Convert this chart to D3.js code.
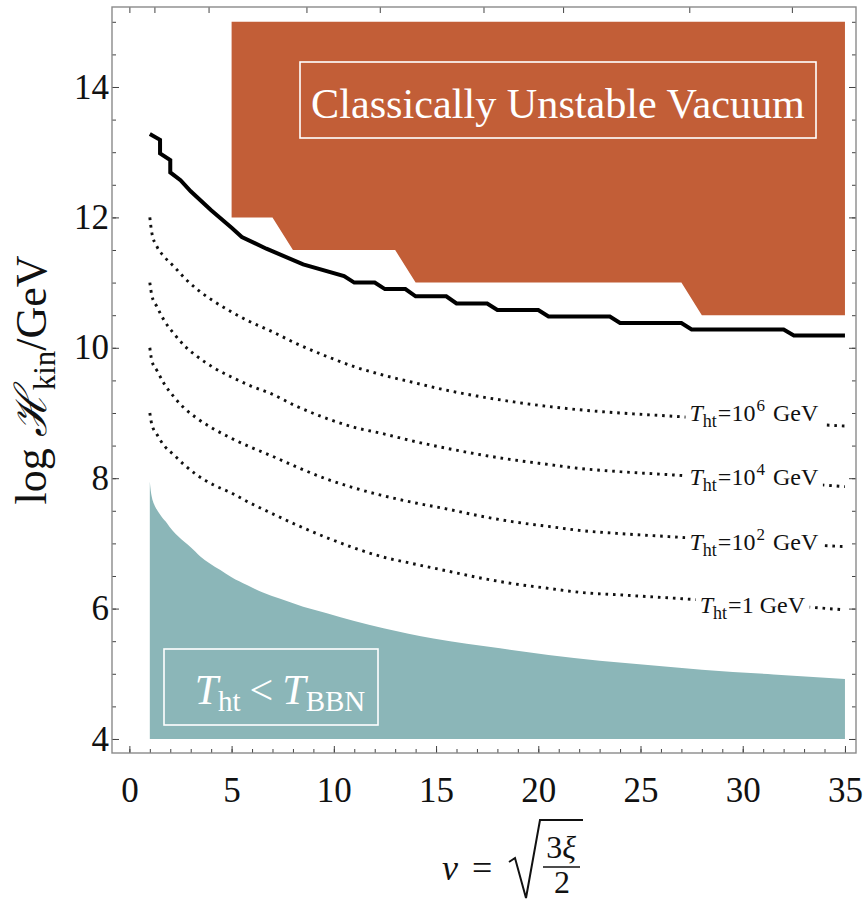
<!DOCTYPE html>
<html><head><meta charset="utf-8">
<script src="https://cdn.jsdelivr.net/npm/d3@7"></script>
<style>body{margin:0;background:#fff}svg{display:block}</style>
</head><body>
<svg id="c" width="864" height="906"></svg>
<script>
// ---------- data ----------
const xTicks = [0, 5, 10, 15, 20, 25, 30, 35];
const yTicks = [4, 6, 8, 10, 12, 14];
const xiTopTicks = [0, 1, 10, 50, 100, 200, 300, 500, 700];

// black stability boundary
const boundaryNu = [1.0,1.5,1.5,2.0,2.0,2.5,3.0,4.0,5.0,5.5,6.7,8.5,10.5,11.0,12.0,12.5,13.5,14.0,15.5,16.0,17.5,18.0,20.0,20.5,23.5,24.0,27.0,27.5,32.0,32.5,35.0];
const boundaryH  = [13.28,13.19,12.98,12.88,12.69,12.57,12.40,12.11,11.84,11.70,11.52,11.28,11.10,11.0,11.0,10.9,10.9,10.79,10.79,10.68,10.68,10.58,10.58,10.48,10.48,10.38,10.38,10.28,10.28,10.19,10.19];

// classically unstable vacuum region
const unstableNu = [5, 35, 35, 28, 27, 14, 13, 8, 7, 5];
const unstableH  = [15, 15, 10.5, 10.5, 11, 11, 11.5, 11.5, 12, 12];

// T_ht < T_BBN region (upper edge)
const bbnNu = [1.0,1.03,1.08,1.15,1.27,1.4,1.55,1.84,2.1,2.41,2.7,3.0,3.47,3.9,4.45,5.0,5.75,6.5,7.38,8.5,9.66,11.0,12.43,14.87,16.5,18.13,20.5,23,25.5,28,31.5,35];
const bbnH  = [7.95,7.85,7.74,7.65,7.56,7.49,7.42,7.31,7.20,7.10,7.02,6.94,6.80,6.70,6.59,6.48,6.36,6.25,6.15,6.03,5.93,5.81,5.70,5.54,5.46,5.39,5.29,5.20,5.13,5.06,4.99,4.92];

// dotted T_ht contours
const tNu = [1,1.1,1.35,1.7,2.17,2.7,3.3,4.1,4.94,5.9,6.9,8.2,9.8,11,12.3,14,15.5,17,18.8,20.5,22,24,26.6,29,32,35];
const t6H = [12.0,11.76,11.55,11.40,11.25,11.07,10.90,10.72,10.56,10.40,10.26,10.06,9.85,9.71,9.59,9.46,9.35,9.26,9.17,9.10,9.05,9.00,8.95,8.90,8.85,8.80];
const t4H = [11.0,10.80,10.63,10.42,10.22,10.03,9.87,9.70,9.56,9.42,9.30,9.10,8.90,8.78,8.69,8.56,8.46,8.37,8.28,8.21,8.15,8.10,8.05,8.00,7.94,7.87];
const t2H = [10.0,9.80,9.65,9.45,9.25,9.07,8.92,8.76,8.62,8.48,8.35,8.17,7.97,7.85,7.74,7.62,7.53,7.43,7.33,7.26,7.20,7.15,7.10,7.05,7.00,6.95];
const t0H = [9.0,8.82,8.67,8.50,8.36,8.20,8.05,7.90,7.78,7.62,7.47,7.28,7.07,6.93,6.80,6.68,6.58,6.48,6.38,6.31,6.25,6.21,6.16,6.11,6.05,5.98];
const contourSeries = [t6H, t4H, t2H, t0H];
const contourExp = ["6", "4", "2", null];

const orange = "#c25e37", teal = "#8bb6b8";
const serif = "'Liberation Serif','Times New Roman',serif";

// ---------- scales ----------
const svg = d3.select("#c");
const x = d3.scaleLinear().domain([-0.85, 35.54]).range([112, 856]);
const y = d3.scaleLinear().domain([3.785, 15.227]).range([753, 7]);

const zip = (a, b) => a.map((v, i) => [v, b[i]]);

// regions
svg.append("path")
  .attr("d", d3.line().x(d => x(d[0])).y(d => y(d[1]))(zip(unstableNu, unstableH)) + "Z")
  .attr("fill", orange);

svg.append("path")
  .attr("d", d3.area().x(d => x(d[0])).y0(y(4)).y1(d => y(d[1])).curve(d3.curveMonotoneX)(zip(bbnNu, bbnH)))
  .attr("fill", teal);

// dotted contours
const cLine = d3.line().x(d => x(d[0])).y(d => y(d[1])).curve(d3.curveMonotoneX);
contourSeries.forEach(s => {
  svg.append("path").attr("d", cLine(zip(tNu, s)))
    .attr("fill", "none").attr("stroke", "#111").attr("stroke-width", 2.9)
    .attr("stroke-dasharray", "2.6,4.9");
});

// boundary line
svg.append("path")
  .attr("d", d3.line().x(d => x(d[0])).y(d => y(d[1]))(zip(boundaryNu, boundaryH)))
  .attr("fill", "none").attr("stroke", "#000").attr("stroke-width", 4)
  .attr("stroke-linejoin", "miter");

// contour labels
const labelBase = [8.87, 7.90, 6.90, 5.93];
const labelCenterNu = 30.3;
contourExp.forEach((e, i) => {
  const g = svg.append("g");
  const bg = g.append("rect").attr("fill", "#fff");
  const t = g.append("text").attr("font-family", serif).attr("font-size", 24)
    .attr("y", y(labelBase[i])).attr("fill", "#111");
  t.append("tspan").attr("font-style", "italic").text("T");
  t.append("tspan").attr("font-size", 18).attr("dy", 6).text("ht");
  if (e) {
    t.append("tspan").attr("dy", -6).attr("dx", 1).text("=10");
    t.append("tspan").attr("font-size", 17).attr("dy", -10).attr("dx", 1).text(e);
    t.append("tspan").attr("dy", 10).attr("dx", 8).text("GeV");
  } else {
    t.append("tspan").attr("dy", -6).attr("dx", 1).text("=1");
    t.append("tspan").attr("dx", 6).text("GeV");
  }
  const w = t.node().getComputedTextLength();
  t.attr("x", x(labelCenterNu) - w / 2);
  const bb = t.node().getBBox();
  bg.attr("x", bb.x - 4).attr("y", bb.y - 2).attr("width", bb.width + 8).attr("height", bb.height + 4);
});

// region labels
function boxLabel(cx, cy, w, h, build, targetW) {
  const g = svg.append("g");
  g.append("rect").attr("x", cx - w / 2).attr("y", cy - h / 2).attr("width", w).attr("height", h)
    .attr("fill", "none").attr("stroke", "#fff").attr("stroke-width", 1.6);
  const t = g.append("text").attr("font-family", serif).attr("fill", "#fff");
  build(t);
  const tw = t.node().getComputedTextLength();
  t.attr("x", cx - tw / 2);
  return t;
}
const t1 = boxLabel(558, 100, 516, 76, t => {
  t.attr("font-size", 40).attr("y", 118).text("Classically Unstable Vacuum");
});
{ // fit width
  const tw = t1.node().getComputedTextLength();
  const fs = 40 * 494 / tw;
  t1.attr("font-size", fs);
  t1.attr("x", 558 - t1.node().getComputedTextLength() / 2);
}
boxLabel(271, 687, 214, 76, t => {
  t.attr("font-size", 42).attr("y", 704);
  t.append("tspan").attr("font-style", "italic").text("T");
  t.append("tspan").attr("font-size", 29).attr("dy", 7).text("ht");
  t.append("tspan").attr("dy", -7).attr("dx", 9).text("<");
  t.append("tspan").attr("font-style", "italic").attr("dx", 9).text("T");
  t.append("tspan").attr("font-size", 29).attr("dy", 7).text("BBN");
});

// ---------- frame & axes ----------
const tickCol = "#444";
function styleAxis(g) {
  g.select(".domain").remove();
  g.selectAll("line").attr("stroke", tickCol).attr("stroke-width", 1);
  g.selectAll("text").attr("font-family", serif).attr("font-size", 35).attr("fill", "#111");
}
const minorX = d3.range(0, 36, 1), minorY = d3.range(4, 15.01, 0.5);
svg.append("g").attr("transform", "translate(0,753)")
  .call(d3.axisBottom(x).tickValues(minorX).tickSize(-4).tickFormat("")).call(styleAxis);
svg.append("g").attr("transform", "translate(0,753)")
  .call(d3.axisBottom(x).tickValues(xTicks).tickSize(-7).tickPadding(24).tickFormat(d3.format("d"))).call(styleAxis);
svg.append("g").attr("transform", "translate(112,0)")
  .call(d3.axisLeft(y).tickValues(minorY).tickSize(-4).tickFormat("")).call(styleAxis);
svg.append("g").attr("transform", "translate(112,0)")
  .call(d3.axisLeft(y).tickValues(yTicks).tickSize(-7).tickPadding(3).tickFormat(d3.format("d"))).call(styleAxis);
svg.append("g").attr("transform", "translate(856,0)")
  .call(d3.axisRight(y).tickValues(minorY).tickSize(-4).tickFormat("")).call(styleAxis);
svg.append("g").attr("transform", "translate(856,0)")
  .call(d3.axisRight(y).tickValues(yTicks).tickSize(-7).tickFormat("")).call(styleAxis);
svg.append("g").attr("transform", "translate(0,7)")
  .call(d3.axisTop(x).tickValues(xiTopTicks.map(v => Math.sqrt(1.5 * v))).tickSize(-6).tickFormat("")).call(styleAxis);

svg.append("rect").attr("x", 112).attr("y", 7).attr("width", 744).attr("height", 746)
  .attr("fill", "none").attr("stroke", "#8a8a8a").attr("stroke-width", 1.4);

// y axis label
{
  const t = svg.append("text").attr("transform", "translate(46,380) rotate(-90)")
    .attr("text-anchor", "middle").attr("font-family", serif).attr("font-size", 44).attr("fill", "#111");
  t.append("tspan").text("log ");
  t.append("tspan").attr("font-style", "italic").text("ℋ");
  t.append("tspan").attr("font-size", 31).attr("dy", 9).text("kin");
  t.append("tspan").attr("dy", -9).text("/GeV");
}
// x axis label  ν = sqrt(3ξ/2)
{
  const g = svg.append("g").attr("font-family", serif).attr("fill", "#111");
  g.append("text").attr("x", 442).attr("y", 880).attr("font-size", 36).attr("font-style", "italic").text("ν");
  g.append("text").attr("x", 472).attr("y", 880).attr("font-size", 36).text("=");
  g.append("path").attr("d", "M509,862 L515,858 L526,898 L540,820 L583,820")
    .attr("fill", "none").attr("stroke", "#111").attr("stroke-width", 2);
  g.append("text").attr("x", 561).attr("y", 858).attr("font-size", 32).attr("text-anchor", "middle")
    .call(t => { t.append("tspan").text("3"); t.append("tspan").attr("font-style", "italic").text("ξ"); });
  g.append("line").attr("x1", 543).attr("x2", 580).attr("y1", 867).attr("y2", 867).attr("stroke", "#111").attr("stroke-width", 1.5);
  g.append("text").attr("x", 562).attr("y", 893).attr("font-size", 32).attr("text-anchor", "middle").text("2");
}
</script>
</body></html>
